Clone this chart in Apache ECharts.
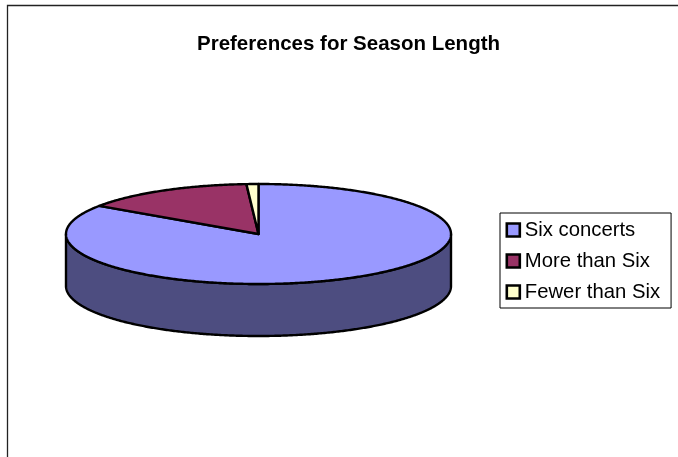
<!DOCTYPE html>
<html>
<head>
<meta charset="utf-8">
<style>html,body{margin:0;padding:0;background:#fff}#c{width:678px;height:457px}</style>
<script src="https://cdn.jsdelivr.net/npm/echarts@6/dist/echarts.min.js"></script>
</head>
<body>
<div id="c"></div>
<script>
const titleText = 'Preferences for Season Length';
const categories = ['Six concerts', 'More than Six', 'Fewer than Six'];
const values = [84.5, 14.5, 1.0];
const topColors = ['#9999FF', '#993366', '#FFFFCC'];
const sideColors = ['#4D4D80', '#4D1A33', '#808066'];

const CX = 258.5, CY = 234, RX = 192.5, RY = 50, DEPTH = 52;
const total = values.reduce((a, b) => a + b, 0);
const pt = (deg, dy) => {
  const r = deg * Math.PI / 180;
  return [CX + RX * Math.sin(r), CY - RY * Math.cos(r) + (dy || 0)];
};
const arc = (a, b, dy) => {
  const out = [];
  const n = Math.max(1, Math.ceil(Math.abs(b - a) * 2));
  for (let i = 0; i <= n; i++) out.push(pt(a + (b - a) * i / n, dy));
  return out;
};
const lineStyle = fill => ({ fill, stroke: '#000', lineWidth: 2.4, lineJoin: 'round' });

const makeSeries = (name, idx) => ({
  type: 'custom',
  name,
  coordinateSystem: 'none',
  silent: true,
  itemStyle: { color: topColors[idx], borderColor: '#000', borderWidth: 2.4 },
  data: [values[idx]],
  renderItem: (params, api) => {
    const before = values.slice(0, idx).reduce((a, b) => a + b, 0);
    const start = before / total * 360;
    const end = start + api.value(0) / total * 360;
    const children = [];
    const wa = Math.max(start, 90), wb = Math.min(end, 270);
    if (wb > wa) {
      children.push({
        type: 'polygon',
        shape: { points: arc(wa, wb, 0).concat(arc(wb, wa, DEPTH)) },
        style: lineStyle(sideColors[idx])
      });
    }
    children.push({
      type: 'polygon',
      shape: { points: [[CX, CY]].concat(arc(start, end, 0)) },
      style: lineStyle(topColors[idx])
    });
    return { type: 'group', children };
  }
});

const chart = echarts.init(document.getElementById('c'), null, { renderer: 'canvas' });
chart.setOption({
  animation: false,
  backgroundColor: '#fff',
  title: {
    text: titleText,
    left: 348.5,
    textAlign: 'center',
    top: 34,
    padding: 0,
    textStyle: { fontFamily: 'Liberation Sans', fontSize: 20.5, fontWeight: 'bold', color: '#000' }
  },
  legend: {
    orient: 'vertical',
    left: 500,
    top: 213,
    selectedMode: false,
    data: categories,
    icon: 'rect',
    itemWidth: 13,
    itemHeight: 13,
    itemGap: 11,
    padding: [7, 11, 6, 5.5],
    backgroundColor: '#fff',
    borderColor: '#000',
    borderWidth: 1,
    itemStyle: { borderColor: '#000', borderWidth: 2.6 },
    textStyle: { fontFamily: 'Liberation Sans', fontSize: 20.3, color: '#000', padding: [0, 0, 0, 0] }
  },
  graphic: [{
    type: 'rect',
    silent: true,
    z: -1,
    shape: { x: 7.5, y: 5.5, width: 800, height: 600 },
    style: { fill: 'none', stroke: '#222', lineWidth: 1.3 }
  }],
  series: categories.map(makeSeries)
});
</script>
</body>
</html>
